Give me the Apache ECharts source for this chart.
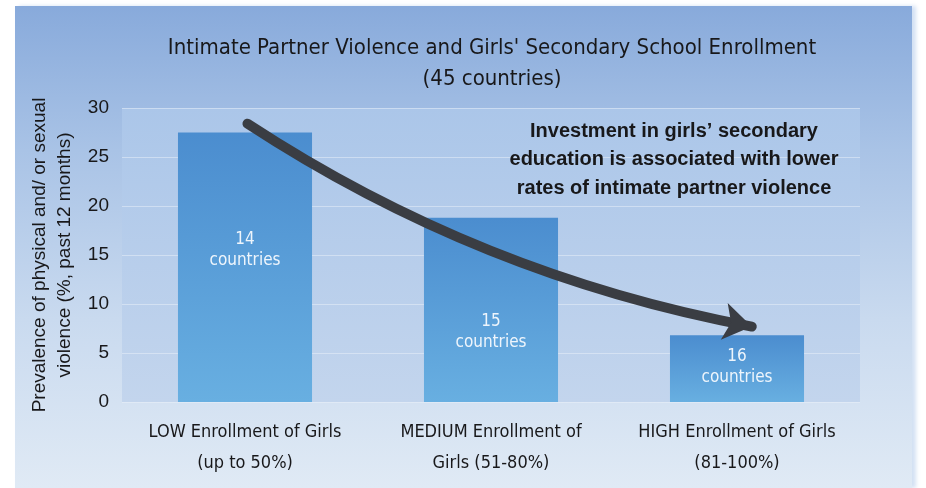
<!DOCTYPE html>
<html>
<head>
<meta charset="utf-8">
<script src="https://cdn.jsdelivr.net/npm/echarts@6/dist/echarts.min.js"></script>
<style>
  html, body { margin: 0; padding: 0; background: #ffffff; }
  #panel {
    position: absolute; left: 15px; top: 6px; width: 897px; height: 482px;
    background: linear-gradient(180deg, #88aadb 0%, #a9c3e6 30%, #c9daef 65%, #e0eaf5 100%);
    box-shadow: 4px 0 4px rgba(200, 218, 240, 0.8);
  }
  #chart { position: absolute; left: 0; top: 0; width: 926px; height: 488px; }
</style>
</head>
<body>
<div id="panel"></div>
<div id="chart"></div>
<script>
// Enrollment groups and the share of women reporting partner violence in each
const categories = [
  'LOW Enrollment of Girls\n(up to 50%)',
  'MEDIUM Enrollment of\nGirls (51-80%)',
  'HIGH Enrollment of Girls\n(81-100%)'
];
const prevalence = [27.5, 18.8, 6.8];
const countryCounts = [14, 15, 16];
const yTicks = [0, 5, 10, 15, 20, 25, 30];

// Trend arrow anchors: [position along the enrollment scale (0-3), prevalence %]
const trendArrow = [[0.51, 28.4], [2.56, 7.7]];

// Vertical nudges for the in-bar count labels
const labelOffsets = [-17, 22, -2];

const narrow = '"Liberation Sans Narrow", "DejaVu Sans Condensed", "Roboto Condensed", "Liberation Sans", sans-serif';
const sans = '"Liberation Sans", Arial, sans-serif';

const chart = echarts.init(document.getElementById('chart'), null, { renderer: 'canvas' });

chart.setOption({
  backgroundColor: 'transparent',
  animation: false,
  title: {
    text: 'Intimate Partner Violence and Girls\' Secondary School Enrollment\n(45 countries)',
    left: 487,
    top: 28,
    textAlign: 'center',
    textStyle: {
      fontFamily: narrow, fontSize: 22, fontWeight: 'normal',
      color: '#18181a', lineHeight: 31
    }
  },
  grid: {
    left: 122, right: 66, top: 108, bottom: 86,
    show: true,
    borderWidth: 0,
    backgroundColor: new echarts.graphic.LinearGradient(0, 0, 0, 1, [
      { offset: 0, color: '#abc6e9' },
      { offset: 1, color: '#c3d5ed' }
    ])
  },
  xAxis: [
    {
      type: 'category',
      data: categories,
      axisLine: { show: false },
      axisTick: { show: false },
      axisLabel: {
        fontFamily: narrow, fontSize: 18, color: '#18181a',
        lineHeight: 31, margin: 15, interval: 0
      }
    },
    {
      type: 'value', min: 0, max: 3, show: false
    }
  ],
  yAxis: {
    type: 'value',
    min: yTicks[0],
    max: yTicks[yTicks.length - 1],
    interval: yTicks[1] - yTicks[0],
    name: 'Prevalence of physical and/ or sexual\nviolence (%, past 12 months)',
    nameLocation: 'middle',
    nameGap: 39,
    nameRotate: 90,
    nameTextStyle: {
      fontFamily: sans, fontSize: 19, color: '#18181a', lineHeight: 25
    },
    axisLine: { show: false },
    axisTick: { show: false },
    axisLabel: { fontFamily: sans, fontSize: 19, color: '#18181a', margin: 13 },
    splitLine: { lineStyle: { color: 'rgba(235,242,250,0.5)', width: 1 } }
  },
  series: [
    {
      type: 'bar',
      xAxisIndex: 0,
      barWidth: '54.5%',
      data: prevalence.map((v, i) => ({
        value: v,
        label: { offset: [0, labelOffsets[i]] }
      })),
      itemStyle: {
        color: new echarts.graphic.LinearGradient(0, 0, 0, 1, [
          { offset: 0, color: '#4b8dcf' },
          { offset: 1, color: '#68afe1' }
        ])
      },
      label: {
        show: true,
        position: 'inside',
        fontFamily: narrow,
        fontSize: 17,
        lineHeight: 21,
        color: '#eef5fc',
        formatter: p => countryCounts[p.dataIndex] + '\ncountries'
      },
      z: 2
    },
    {
      type: 'lines',
      coordinateSystem: 'cartesian2d',
      xAxisIndex: 1,
      yAxisIndex: 0,
      silent: true,
      symbol: ['none', 'arrow'],
      symbolSize: [0, 28],
      lineStyle: { color: '#3a3d43', width: 10, opacity: 1, curveness: -0.1, cap: 'round' },
      data: [{ coords: trendArrow }],
      z: 5
    }
  ],
  graphic: [
    {
      type: 'text',
      x: 674,
      y: 117,
      style: {
        text: 'Investment in girls\u2019 secondary\neducation is associated with lower\nrates of intimate partner violence',
        align: 'center',
        verticalAlign: 'top',
        fontFamily: sans,
        fontSize: 20,
        fontWeight: 'bold',
        lineHeight: 28.5,
        fill: '#18181a'
      },
      z: 10
    }
  ]
});
</script>
</body>
</html>
